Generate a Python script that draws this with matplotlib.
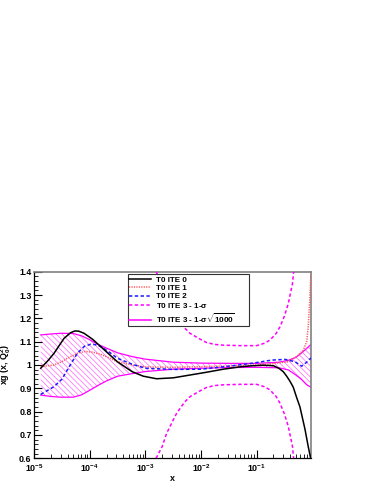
import numpy as np
import matplotlib
matplotlib.use("Agg")
import matplotlib.pyplot as plt
from matplotlib.lines import Line2D
from matplotlib.ticker import FixedLocator, MultipleLocator

# ---------------- data (log10 x and values) ----------------
ite0_lx = [-4.885, -4.75, -4.646, -4.466, -4.35, -4.27, -4.2, -4.106, -3.95, -3.806, -3.65,
           -3.507, -3.237, -3.04, -2.8, -2.5, -2.2, -1.9, -1.6, -1.3, -1.12, -0.9, -0.7,
           -0.6, -0.52, -0.46, -0.4, -0.342, -0.28, -0.221, -0.131, -0.072, -0.029]
ite0_y = [0.986, 1.02, 1.05, 1.114, 1.138, 1.146, 1.145, 1.136, 1.11, 1.079, 1.045,
          1.014, 0.971, 0.952, 0.941, 0.945, 0.957, 0.969, 0.982, 0.992, 0.996, 0.999, 0.997,
          0.986, 0.971, 0.952, 0.93, 0.905, 0.86, 0.82, 0.725, 0.65, 0.6]

ite1_lx = [-4.885, -4.75, -4.646, -4.5, -4.406, -4.227, -4.09, -3.95, -3.806, -3.65, -3.507,
           -3.237, -3.0, -2.5, -2.0, -1.5, -1.0, -0.67, -0.43, -0.28, -0.16, -0.10, -0.07,
           -0.045, -0.023]
ite1_y = [0.993, 0.997, 1.0, 1.015, 1.029, 1.05, 1.058, 1.055, 1.046, 1.03, 1.014,
          1.0, 0.992, 0.99, 0.993, 0.996, 1.0, 1.007, 1.014, 1.036, 1.064, 1.1, 1.17,
          1.28, 1.39]

ite2_lx = [-4.885, -4.646, -4.5, -4.406, -4.227, -4.1, -3.986, -3.9, -3.806, -3.65, -3.507,
           -3.237, -3.0, -2.5, -2.0, -1.57, -1.09, -0.73, -0.49, -0.31, -0.19, -0.1, -0.023]
ite2_y = [0.874, 0.907, 0.94, 0.979, 1.05, 1.08, 1.089, 1.087, 1.079, 1.055, 1.029,
          1.003, 0.986, 0.981, 0.982, 0.993, 1.007, 1.021, 1.024, 1.014, 0.995, 1.012, 1.03]

band_lx = [-4.885, -4.7, -4.526, -4.3, -4.15, -4.0, -3.85, -3.7, -3.5, -3.24, -3.0, -2.5,
           -2.0, -1.5, -1.0, -0.6, -0.43, -0.3, -0.2, -0.1, -0.023]
band_up = [1.129, 1.133, 1.136, 1.135, 1.125, 1.108, 1.088, 1.072, 1.052, 1.036, 1.025, 1.012,
           1.008, 1.007, 1.007, 1.012, 1.02, 1.032, 1.05, 1.071, 1.088]
band_lo = [0.871, 0.865, 0.862, 0.862, 0.872, 0.892, 0.913, 0.932, 0.952, 0.963, 0.972, 0.982,
           0.986, 0.989, 0.99, 0.988, 0.979, 0.958, 0.94, 0.915, 0.905]

sig_lx = [-2.81, -2.7, -2.62, -2.52, -2.44, -2.3, -2.2, -2.05, -1.9, -1.75, -1.6, -1.3,
          -1.0, -0.85, -0.76, -0.65, -0.58, -0.5, -0.43, -0.39, -0.355, -0.335]
sig_up = [1.4, 1.35, 1.293, 1.245, 1.207, 1.16, 1.136, 1.115, 1.096, 1.088, 1.085, 1.083,
          1.083, 1.094, 1.107, 1.135, 1.164, 1.21, 1.264, 1.31, 1.35, 1.4]
sig_lo = [0.6, 0.65, 0.707, 0.755, 0.793, 0.84, 0.864, 0.885, 0.904, 0.912, 0.915, 0.917,
          0.917, 0.906, 0.893, 0.865, 0.836, 0.79, 0.736, 0.69, 0.65, 0.6]

legend_labels = ["T0 ITE 0", "T0 ITE 1", "T0 ITE 2",
                 r"T0 ITE 3 - 1-$\sigma$", r"T0 ITE 3 - 1-$\sigma\sqrt{1000}$"]
xtick_vals = [1e-5, 1e-4, 1e-3, 1e-2, 1e-1]
xtick_labels = [r"$10^{-5}$", r"$10^{-4}$", r"$10^{-3}$", r"$10^{-2}$", r"$10^{-1}$"]
ytick_vals = [0.6, 0.7, 0.8, 0.9, 1.0, 1.1, 1.2, 1.3, 1.4]
ytick_labels = ["0.6", "0.7", "0.8", "0.9", "1", "1.1", "1.2", "1.3", "1.4"]

# ---------------- style ----------------
plt.rcParams['font.family'] = ['Liberation Sans', 'DejaVu Sans']
plt.rcParams['font.weight'] = 'bold'
plt.rcParams['mathtext.fontset'] = 'custom'
plt.rcParams['mathtext.rm'] = 'Liberation Sans:bold'
plt.rcParams['mathtext.it'] = 'Liberation Sans:bold:italic'
plt.rcParams['mathtext.bf'] = 'Liberation Sans:bold'
plt.rcParams['mathtext.sf'] = 'Liberation Sans:bold'
plt.rcParams['mathtext.default'] = 'regular'
plt.rcParams['hatch.linewidth'] = 0.45

MAG = '#ff00ff'
RED = '#ff5a5a'
BLUE = '#1a1aff'

fig = plt.figure(figsize=(3.73, 4.82), dpi=100)
ax = fig.add_axes([0.092, 0.0492, 0.742, 0.3871])

def X(lx):
    return 10.0 ** np.asarray(lx)

# hatched band
ax.fill_between(X(band_lx), band_lo, band_up, facecolor='none', edgecolor='#ff55ff',
                hatch='\\\\\\\\\\\\', linewidth=0, zorder=1)
ax.plot(X(band_lx), band_up, color=MAG, lw=0.9, zorder=2)
ax.plot(X(band_lx), band_lo, color=MAG, lw=0.9, zorder=2)

# 1-sigma lines
ax.plot(X(sig_lx), sig_up, color=MAG, lw=1.1, ls=(0, (2.2, 1.6)), zorder=3)
ax.plot(X(sig_lx), sig_lo, color=MAG, lw=1.1, ls=(0, (2.2, 1.6)), zorder=3)

ax.plot(X(ite1_lx), ite1_y, color=RED, lw=1.1, ls=(0, (0.8, 0.8)), zorder=4)
ax.plot(X(ite2_lx), ite2_y, color=BLUE, lw=1.1, ls=(0, (2.2, 1.6)), zorder=5)
ax.plot(X(ite0_lx), ite0_y, color='black', lw=1.1, zorder=6)

ax.set_xscale('log')
ax.set_xlim(1e-5, 0.953)
ax.set_ylim(0.6, 1.4)

ax.xaxis.set_major_locator(FixedLocator(xtick_vals))
ax.set_xticks(xtick_vals)
ax.set_xticklabels(xtick_labels)
ax.set_yticks(ytick_vals)
ax.set_yticklabels(ytick_labels)
ax.yaxis.set_minor_locator(MultipleLocator(0.02))

ax.tick_params(axis='both', which='major', direction='in', length=6, width=0.8,
               labelsize=6.4, top=False, right=False)
ax.tick_params(axis='both', which='minor', direction='in', length=3, width=0.6,
               top=False, right=False)
ax.tick_params(axis='y', which='major', pad=2)
ax.tick_params(axis='x', which='major', pad=3)

for s in ['left', 'bottom']:
    ax.spines[s].set_color('black')
    ax.spines[s].set_linewidth(0.9)
for s in ['top', 'right']:
    ax.spines[s].set_color('#808080')
    ax.spines[s].set_linewidth(1.2)

ax.set_ylabel(r"xg (x, Q$_0^2$)", fontsize=6.4, fontweight='bold', labelpad=4)
ax.set_xlabel("x", fontsize=6.4, fontweight='bold', labelpad=0)

handles = [
    Line2D([], [], color='black', lw=1.1),
    Line2D([], [], color=RED, lw=1.1, ls=(0, (0.8, 0.8))),
    Line2D([], [], color=BLUE, lw=1.1, ls=(0, (2.2, 1.6))),
    Line2D([], [], color=MAG, lw=1.1, ls=(0, (2.2, 1.6))),
    Line2D([], [], color=MAG, lw=1.1),
]
leg = ax.legend(handles, legend_labels, loc='upper left',
                bbox_to_anchor=(0.3375, 0.986, 0.4375, 0.0), mode='expand',
                borderaxespad=0, fontsize=5.8, frameon=True, fancybox=False,
                edgecolor='#333333', framealpha=1, handlelength=2.7,
                handletextpad=0.6, labelspacing=0.1, borderpad=0.2)
leg.get_frame().set_linewidth(0.8)
for t in leg.get_texts():
    t.set_fontweight('bold')

fig.savefig('out.png', dpi=100, facecolor='white')
